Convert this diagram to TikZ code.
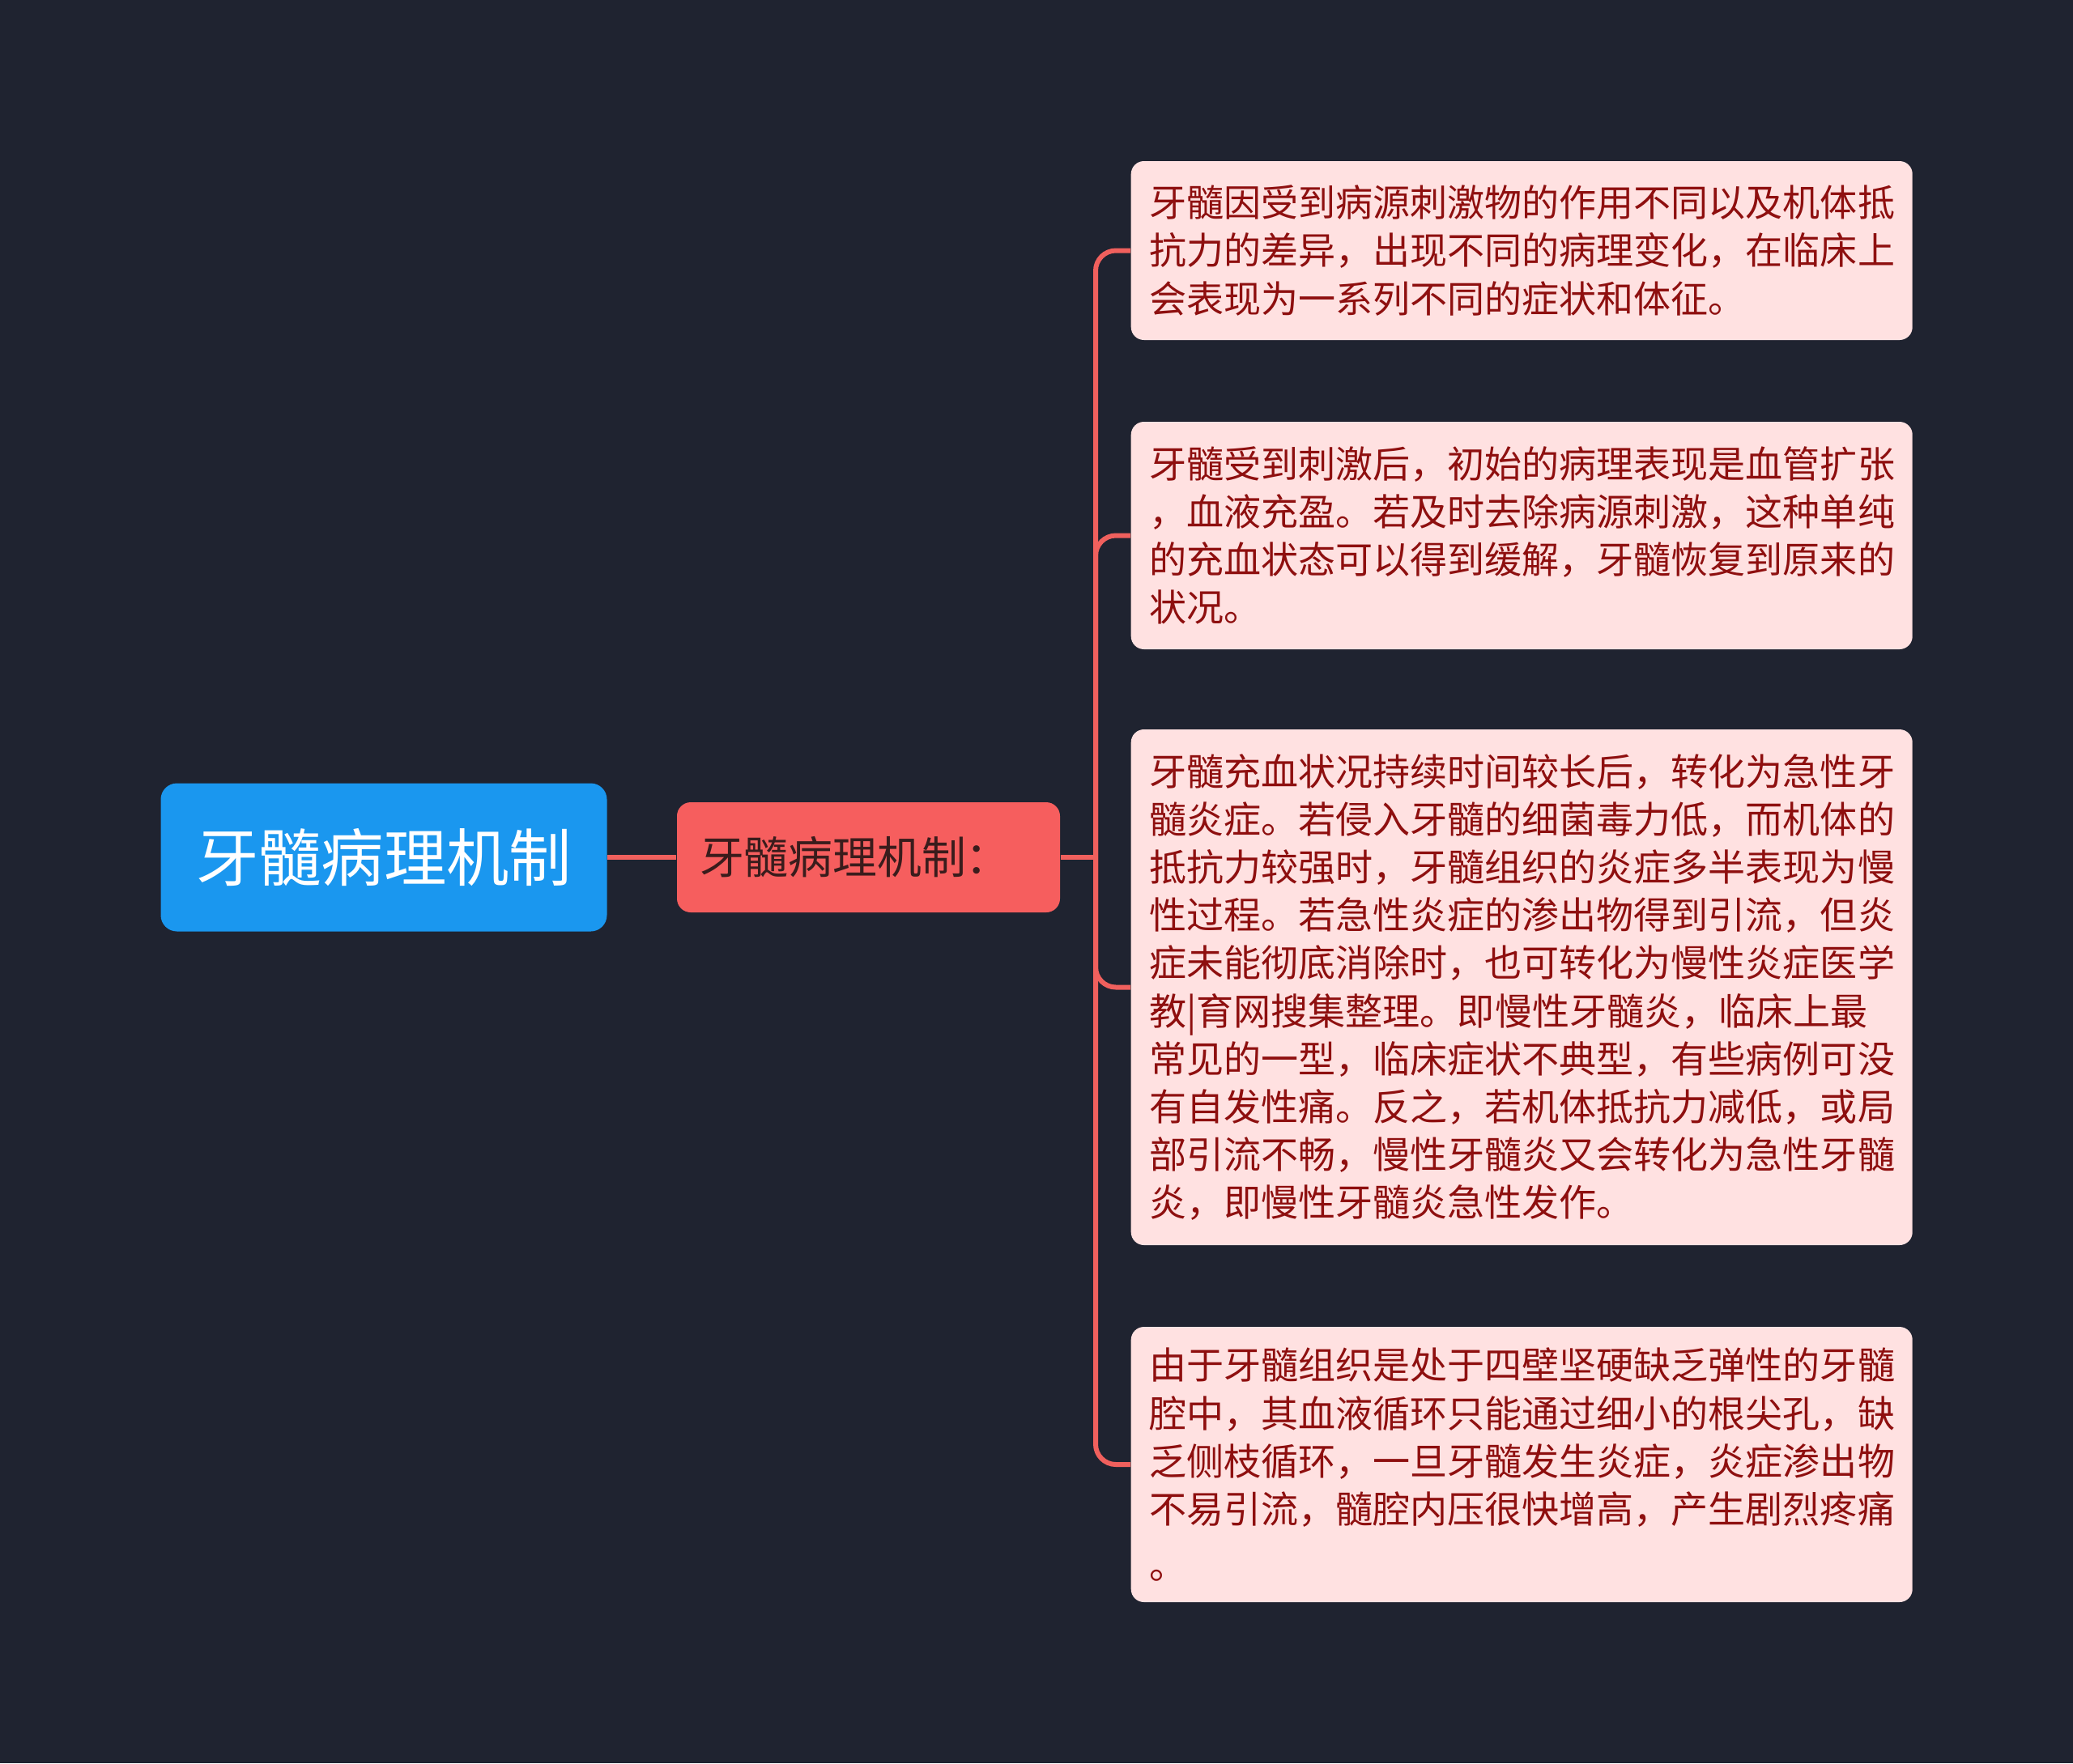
\documentclass[tikz,border=0pt]{standalone}
\usepackage{fontspec}
\newfontfamily\cjk{Noto Sans CJK SC}
\usepackage{tikz}
\usetikzlibrary{positioning}

\definecolor{bgdark}{HTML}{1F2330}
\definecolor{rootblue}{HTML}{1A97EF}
\definecolor{subred}{HTML}{F65E5E}
\definecolor{subtext}{HTML}{3A1C1C}
\definecolor{leafpink}{HTML}{FFE1E1}
\definecolor{leaftext}{HTML}{8E0F0F}
\definecolor{linkred}{HTML}{F0605D}

\begin{document}
\begin{tikzpicture}[
    topic/.style={rounded corners=0.2cm, fill=rootblue, text=white, minimum width=5.51cm, minimum height=1.83cm, font=\cjk\fontsize{22}{26}\selectfont},
    sub/.style={rounded corners=0.17cm, fill=subred, text=subtext, text width=4.17cm, inner xsep=0.28cm, align=left, minimum height=1.36cm, font=\cjk\fontsize{15.6}{19}\selectfont},
    leaf/.style={rounded corners=0.16cm, fill=leafpink, text=leaftext, anchor=west, text width=9.2cm, inner xsep=0.225cm, align=left, font=\cjk\fontsize{13.1}{16.8}\selectfont},
    link/.style={draw=linkred, line width=1.7pt, rounded corners=0.25cm}
  ]
  \fill[bgdark] (0,0) rectangle (25.6,-21.78);
  \useasboundingbox (0,0) rectangle (25.6,-21.78);

  % main topic and its one subtopic
  \node[topic] (root) at (4.74,-10.59) {牙髓病理机制};
  \node[sub] (mid) at (10.725,-10.59) {牙髓病理机制：};
  \coordinate (hub) at (13.53,-10.59);

  % the four explanations
  \node[leaf, minimum height=2.21cm] (b1) at (13.96,-3.095) {%
    牙髓因受到病源刺激物的作用不同以及机体抵\\
    抗力的差异，出现不同的病理变化，在临床上\\
    会表现为一系列不同的症状和体征。};
  \node[leaf, minimum height=2.81cm] (b2) at (13.96,-6.615) {%
    牙髓受到刺激后，初始的病理表现是血管扩张\\
    ，血液充盈。若及时去除病源刺激，这种单纯\\
    的充血状态可以得到缓解，牙髓恢复到原来的\\
    状况。};
  \node[leaf, minimum height=6.37cm] (b3) at (13.96,-12.195) {%
    牙髓充血状况持续时间较长后，转化为急性牙\\
    髓炎症。若侵入牙髓的细菌毒力低，而机体的\\
    抵抗力较强时，牙髓组织的炎症多半表现为慢\\
    性过程。若急性炎症的渗出物得到引流，但炎\\
    症未能彻底消除时，也可转化为慢性炎症医学\\
    教|育网搜集整理。即慢性牙髓炎，临床上最\\
    常见的一型，临床症状不典型，有些病例可没\\
    有自发性痛。反之，若机体抵抗力减低，或局\\
    部引流不畅，慢性牙髓炎又会转化为急性牙髓\\
    炎，即慢性牙髓炎急性发作。};
  \node[leaf, minimum height=3.40cm] (b4) at (13.96,-18.09) {%
    由于牙髓组织是处于四壁坚硬缺乏弹性的牙髓\\
    腔中，其血液循环只能通过细小的根尖孔，缺\\
    乏侧枝循环，一旦牙髓发生炎症，炎症渗出物\\
    不易引流，髓腔内压很快增高，产生剧烈疼痛\\[0.1cm]
    。};

  % connectors
  \draw[link] (root.east) -- (mid.west);
  \draw[link] (mid.east) -- (hub);
  \foreach \b in {b1,b2,b3,b4}
    \draw[link] (hub) |- (\b.west);
\end{tikzpicture}
\end{document}
